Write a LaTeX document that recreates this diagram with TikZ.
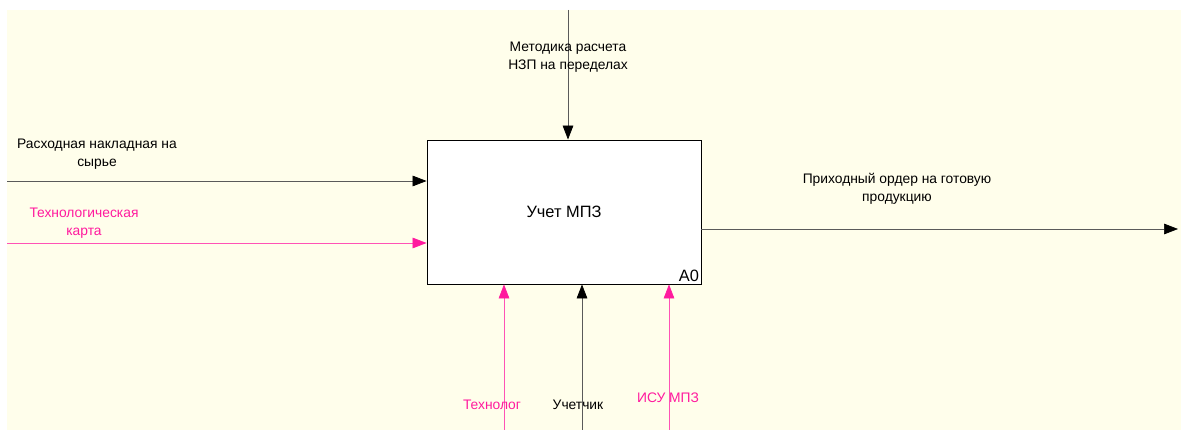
\documentclass[tikz,border=0pt]{standalone}
\usepackage{fontspec}
\setmainfont{Liberation Sans}
\usetikzlibrary{arrows.meta, positioning}
\definecolor{idefBg}{HTML}{FFFEEB}
\definecolor{idefPink}{HTML}{FF1A9E}
\definecolor{idefLine}{HTML}{5A5A5A}

\begin{document}
\begin{tikzpicture}[x=0.03cm, y=-0.03cm,
    func/.style={draw, fill=white, line width=0.8pt, inner sep=0pt,
                minimum width=8.22cm, minimum height=4.32cm,
                font=\fontsize{14}{17}\selectfont},
    lbl/.style={align=center, inner sep=0pt, font=\fontsize{11.8}{15}\selectfont},
    arrB/.style={-{Triangle[length=0.42cm, width=0.32cm, black]}, line width=0.6pt, idefLine},
    arrP/.style={-{Triangle[length=0.42cm, width=0.32cm, idefPink]}, line width=0.5pt, idefPink!75},
  ]
    \useasboundingbox (0,0) rectangle (1181,430);
    \fill[idefBg] (7,10) rectangle (1181,430);

    \node[func] (a0) at (564,212) {Учет МПЗ};
    \node[anchor=south east, inner sep=2pt, font=\fontsize{14}{17}\selectfont]
      (num) at (a0.south east) {A0};

    % free ends
    \coordinate (ctl) at (568,10);
    \coordinate (in1) at (7,181);
    \coordinate (in2) at (7,243);
    \coordinate (out) at (1178,229);
    \coordinate (m1) at (504,430);
    \coordinate (m2) at (582,430);
    \coordinate (m3) at (669,430);

    \draw[arrB] (ctl) -- (ctl |- a0.north);
    \draw[arrB] (in1) -- (in1 -| a0.west);
    \draw[arrP] (in2) -- (in2 -| a0.west);
    \draw[arrB] (out -| a0.east) -- (out);
    \draw[arrP] (m1) -- (m1 |- a0.south);
    \draw[arrB] (m2) -- (m2 |- a0.south);
    \draw[arrP] (m3) -- (m3 |- a0.south);

    \node[lbl] (lblCtl) at (568,57) {Методика расчета\\НЗП на переделах};
    \node[lbl] (lblIn)  at (97,154) {Расходная накладная на\\сырье};
    \node[lbl, text=idefPink] (lblTk) at (84,223) {Технологическая\\карта};
    \node[lbl] (lblOut) at (897,189) {Приходный ордер на готовую\\продукцию};
    \node[lbl, text=idefPink] (lblTech) at (492,405) {Технолог};
    \node[lbl] (lblAcc) at (578,405) {Учетчик};
    \node[lbl, text=idefPink] (lblIsu) at (668,398) {ИСУ МПЗ};
  \end{tikzpicture}
\end{document}
